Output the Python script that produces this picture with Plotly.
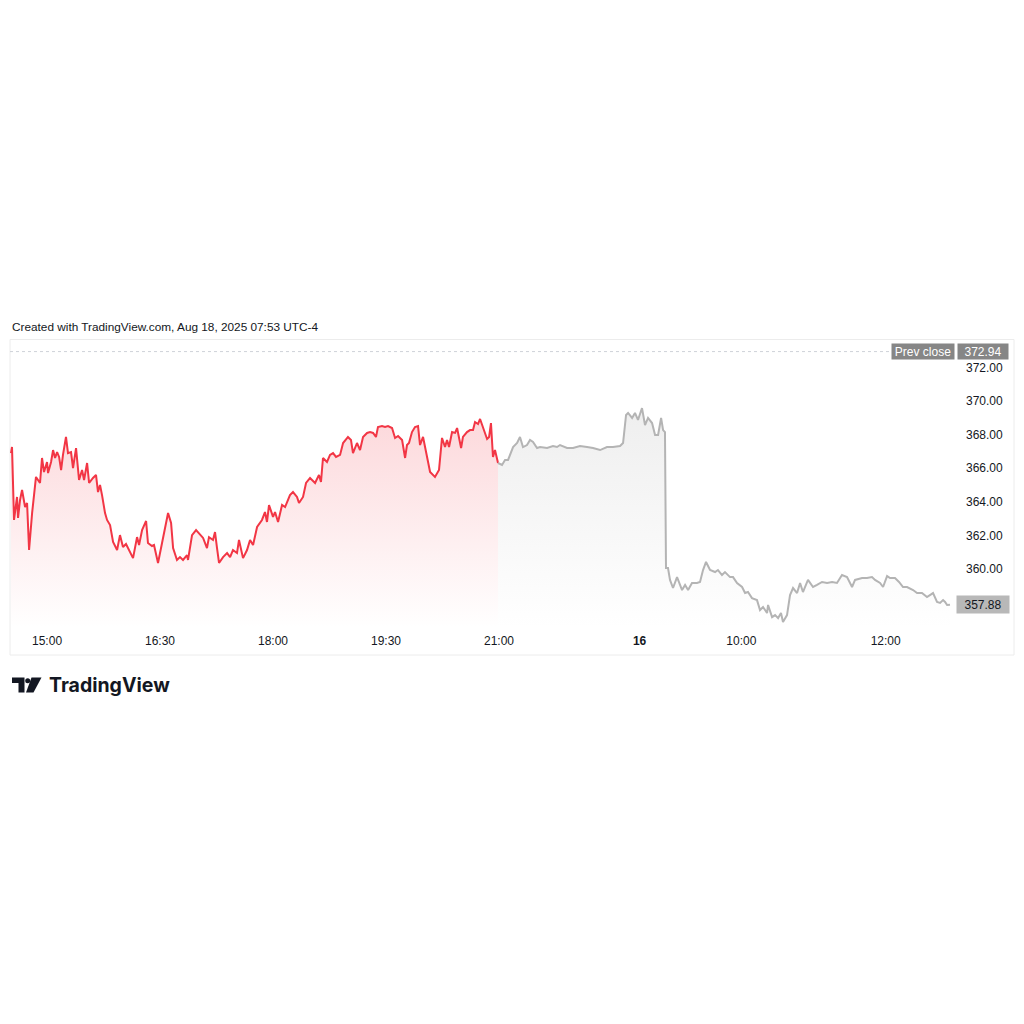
import plotly.graph_objects as go

# ---------------- DATA ----------------
# x = session position in minutes from 15:00 (TradingView bar-index style axis)
red_x = [-28.7, -27.9, -26.3, -23.9, -23.1, -21.5, -19.9, -17.5, -15.9, -14.3, -11.9, -8.8, -5.6, -4.0, -2.4,
         0.0, 0.8, 3.2, 4.8, 6.4, 8.0, 9.6, 11.2, 12.7, 15.1, 16.7, 19.1, 20.7, 23.1, 25.5, 27.9, 29.5, 31.9,
         33.5, 36.6, 39.0, 40.6, 42.2, 43.8, 46.2, 47.8, 50.2, 52.6, 55.8, 58.1, 60.5, 62.9, 66.1, 68.5, 71.7,
         73.3, 75.7, 78.9, 80.4, 83.6, 85.2, 88.4, 91.6, 94.0, 96.4, 98.8, 100.4, 103.5, 105.9, 108.3, 111.5,
         112.3, 115.5, 118.7, 121.9, 124.3, 127.4, 129.0, 132.2, 133.8, 135.4, 137.0, 140.2, 143.4, 145.8,
         148.1, 151.3, 152.9, 156.1, 159.3, 161.7, 164.1, 167.3, 171.2, 173.6, 175.2, 176.8, 180.0, 181.6,
         184.0, 187.2, 189.6, 193.5, 195.9, 199.1, 200.7, 203.9, 206.3, 209.5, 213.5, 216.6, 218.2, 219.8,
         223.0, 225.4, 227.8, 230.2, 233.4, 235.8, 239.7, 242.1, 243.7, 246.9, 249.3, 251.7, 254.9, 257.3,
         259.7, 262.0, 263.6, 266.8, 269.2, 271.6, 274.8, 277.2, 279.6, 282.8, 285.2, 286.7, 288.3, 290.7,
         293.1, 295.5, 297.1, 299.5, 301.1, 302.7, 305.1, 309.0, 312.2, 314.6, 317.0, 318.6, 320.2, 322.6,
         325.0, 326.6, 329.8, 331.3, 334.5, 336.9, 339.3, 340.9, 343.3, 344.9, 347.3, 350.5, 352.1, 353.6,
         355.2, 356.8, 359.2]
red_y = [366.90, 367.26, 362.92, 364.29, 363.04, 364.11, 364.70, 363.69, 363.93, 361.13, 363.33, 365.48,
         365.12, 366.61, 365.77, 366.37, 365.71, 366.37, 367.08, 366.61, 366.96, 366.67, 365.89, 366.79,
         367.86, 366.90, 366.96, 366.01, 367.20, 365.30, 365.89, 365.30, 366.31, 365.12, 365.42, 365.60,
         364.58, 365.00, 364.40, 363.33, 362.92, 362.62, 361.61, 361.13, 362.02, 361.31, 361.49, 360.95,
         360.65, 361.90, 361.43, 362.32, 362.86, 361.55, 361.37, 361.43, 360.36, 361.55, 362.50, 363.33,
         362.74, 361.25, 360.54, 360.71, 360.54, 360.83, 360.54, 362.02, 362.32, 362.02, 361.85, 361.25,
         361.90, 361.73, 362.20, 361.25, 360.36, 360.71, 360.95, 360.71, 361.13, 360.95, 361.73, 360.65,
         361.13, 361.73, 361.43, 362.50, 362.92, 363.39, 362.80, 363.81, 363.10, 363.39, 362.80, 363.81,
         363.69, 364.40, 364.58, 364.29, 363.93, 364.29, 365.12, 365.42, 365.12, 365.60, 365.18, 366.61,
         366.37, 366.79, 366.90, 366.67, 366.79, 367.50, 367.86, 367.68, 366.90, 367.50, 367.08, 367.86,
         368.10, 368.15, 368.10, 367.86, 368.45, 368.51, 368.45, 368.51, 368.39, 367.80, 367.92, 367.68,
         366.61, 367.38, 367.50, 368.15, 368.45, 368.51, 367.38, 367.86, 367.26, 366.61, 365.77, 365.48,
         365.89, 367.80, 367.26, 367.68, 367.26, 368.15, 368.10, 368.39, 367.20, 367.86, 368.15, 368.27,
         368.27, 368.75, 368.63, 368.93, 368.39, 367.74, 367.86, 368.69, 366.67, 367.08, 366.31]

gray_x = [359.2, 362.4, 364.8, 367.2, 371.2, 374.4, 376.7, 379.1, 382.3, 384.7, 387.1, 390.3, 392.7, 398.3,
          403.0, 406.2, 408.6, 414.2, 419.0, 424.5, 430.1, 434.9, 440.5, 446.0, 450.8, 456.4, 458.8, 461.2,
          462.8, 466.0, 468.3, 470.7, 473.9, 476.3, 478.7, 481.9, 484.3, 486.7, 489.1, 490.7, 492.2, 493.0,
          494.6, 496.2, 498.6, 501.8, 505.8, 508.2, 510.6, 513.7, 517.7, 520.1, 522.5, 524.9, 528.1, 532.1,
          534.4, 537.6, 540.0, 544.0, 546.4, 549.6, 553.6, 556.0, 558.3, 561.5, 565.5, 567.9, 570.3, 573.5,
          574.3, 577.5, 579.9, 582.3, 584.6, 586.2, 589.4, 591.8, 594.2, 597.4, 599.8, 602.1, 606.1, 610.1,
          613.3, 617.3, 621.3, 625.3, 629.2, 633.2, 637.2, 641.2, 643.6, 649.2, 653.1, 657.1, 659.5, 663.5,
          665.9, 669.1, 671.5, 675.4, 678.6, 681.8, 685.0, 689.8, 693.0, 696.9, 700.9, 705.7, 708.9, 711.3,
          713.7, 715.3, 716.9, 719.2]
gray_y = [366.31, 366.19, 366.49, 366.49, 367.26, 367.50, 367.86, 367.26, 367.38, 367.68, 367.56, 367.20,
          367.26, 367.20, 367.32, 367.26, 367.38, 367.20, 367.20, 367.32, 367.26, 367.20, 367.08, 367.26,
          367.26, 367.32, 367.50, 369.17, 369.29, 368.99, 369.29, 368.87, 369.58, 368.57, 368.99, 368.69,
          367.98, 367.98, 368.99, 368.27, 368.15, 360.06, 360.06, 359.35, 358.87, 359.52, 358.75, 359.05,
          358.75, 359.17, 359.17, 359.23, 359.94, 360.42, 359.94, 359.82, 359.94, 359.64, 359.82, 359.52,
          359.52, 359.17, 358.93, 358.57, 358.63, 358.27, 358.15, 357.56, 357.74, 357.38, 357.86, 357.14,
          357.26, 357.08, 357.38, 356.85, 357.26, 358.45, 358.87, 358.57, 359.17, 358.63, 359.35, 358.93,
          359.05, 359.23, 359.17, 359.23, 359.17, 359.64, 359.52, 358.93, 359.35, 359.46, 359.46, 359.52,
          359.35, 359.17, 358.93, 359.58, 359.46, 359.46, 359.23, 358.93, 358.93, 358.75, 358.57, 358.57,
          358.33, 358.57, 358.04, 357.98, 358.15, 358.04, 357.86, 357.88]

prev_close = 372.94
last_price = 357.88

x_tick_pos = [0, 90, 180, 270, 360, 472, 553, 668]
x_tick_labels = ["15:00", "16:30", "18:00", "19:30", "21:00", "<b>16</b>", "10:00", "12:00"]
y_tick_vals = [360, 362, 364, 366, 368, 370, 372]
y_tick_labels = ["360.00", "362.00", "364.00", "366.00", "368.00", "370.00", "372.00"]

header_text = "Created with TradingView.com, Aug 18, 2025 07:53 UTC-4"
brand_text = "TradingView"

# ---------------- LAYOUT GEOMETRY (pixels) ----------------
W, H = 1024, 1024
PL, PR, PT, PB = 10, 955, 340, 628
Y_RANGE = [356.49, 373.63]
X_RANGE = [-29.5, 723.2]


def px(x):
    return (x - PL) / (PR - PL)


def py(y):
    return (PB - y) / (PB - PT)


FONT = "Liberation Sans, Arial, sans-serif"
TEXT = "#131722"
RED = "#F23645"
GRAY = "#b4b4b4"

fig = go.Figure()

fig.add_trace(go.Scatter(
    x=red_x, y=red_y, mode="lines",
    line=dict(color=RED, width=2),
    fill="tozeroy",
    fillgradient=dict(type="vertical", start=Y_RANGE[0], stop=369.5,
                      colorscale=[[0, "rgba(242,54,69,0.0)"], [1, "rgba(242,54,69,0.20)"]]),
    hoverinfo="skip", showlegend=False,
))
fig.add_trace(go.Scatter(
    x=gray_x, y=gray_y, mode="lines",
    line=dict(color=GRAY, width=2),
    fill="tozeroy",
    fillgradient=dict(type="vertical", start=Y_RANGE[0], stop=370.0,
                      colorscale=[[0, "rgba(160,160,160,0.0)"], [1, "rgba(160,160,160,0.18)"]]),
    hoverinfo="skip", showlegend=False,
))

shapes = [
    # outer frame
    dict(type="rect", xref="paper", yref="paper", x0=px(10), x1=px(1014), y0=py(655), y1=py(339.5),
         line=dict(color="#ececec", width=1), fillcolor="rgba(0,0,0,0)", layer="below"),
    # prev close dotted line
    dict(type="line", xref="paper", yref="y", x0=px(10), x1=px(890), y0=prev_close, y1=prev_close,
         line=dict(color="#cfd2d8", width=1, dash="dot")),
    # TradingView logo: T
    dict(type="path", xref="paper", yref="paper",
         path=f"M {px(12)},{py(677.5)} L {px(24.5)},{py(677.5)} L {px(24.5)},{py(692.5)} "
              f"L {px(18.5)},{py(692.5)} L {px(18.5)},{py(683)} L {px(12)},{py(683)} Z",
         fillcolor=TEXT, line=dict(width=0)),
    # logo dot
    dict(type="circle", xref="paper", yref="paper", x0=px(25.2), x1=px(30.2), y0=py(683.2), y1=py(678.2),
         fillcolor=TEXT, line=dict(width=0)),
    # logo slash
    dict(type="path", xref="paper", yref="paper",
         path=f"M {px(31.5)},{py(677.5)} L {px(41.5)},{py(677.5)} L {px(33.5)},{py(692.5)} "
              f"L {px(26)},{py(692.5)} Z",
         fillcolor=TEXT, line=dict(width=0)),
]

annotations = [
    dict(text=header_text, xref="paper", yref="paper", x=px(10), y=py(327), xanchor="left", yanchor="middle",
         showarrow=False, font=dict(family=FONT, size=11.8, color=TEXT)),
    dict(text=brand_text, xref="paper", yref="paper", x=px(47), y=py(684.5), xanchor="left", yanchor="middle",
         showarrow=False, font=dict(family="Inter, sans-serif", size=19.5, color=TEXT, weight=700)),
    dict(text="Prev close", xref="paper", yref="y", x=px(923), y=prev_close, xanchor="center", yanchor="middle",
         showarrow=False, bgcolor="#868686", width=60, height=13, borderpad=1,
         font=dict(family=FONT, size=12, color="#ffffff")),
    dict(text=f"{prev_close:.2f}", xref="paper", yref="y", x=px(982.5), y=prev_close, xanchor="center",
         yanchor="middle", showarrow=False, bgcolor="#868686", width=48, height=13, borderpad=1,
         font=dict(family=FONT, size=12, color="#ffffff")),
    dict(text=f"{last_price:.2f}", xref="paper", yref="y", x=px(983), y=last_price, xanchor="center",
         yanchor="middle", showarrow=False, bgcolor="#b8b8b8", width=50, height=15, borderpad=1,
         font=dict(family=FONT, size=12, color=TEXT)),
]

fig.update_layout(
    width=W, height=H,
    margin=dict(l=PL, r=W - PR, t=PT, b=H - PB, pad=0),
    paper_bgcolor="white", plot_bgcolor="white",
    showlegend=False, hovermode=False,
    shapes=shapes, annotations=annotations,
    xaxis=dict(range=X_RANGE, tickmode="array", tickvals=x_tick_pos, ticktext=x_tick_labels,
               showgrid=False, zeroline=False, showline=False, ticks="",
               tickfont=dict(family=FONT, size=12, color=TEXT), ticklabelstandoff=4, fixedrange=True),
    yaxis=dict(range=Y_RANGE, side="right", tickmode="array", tickvals=y_tick_vals, ticktext=y_tick_labels,
               showgrid=False, zeroline=False, showline=False, ticks="",
               tickfont=dict(family=FONT, size=12, color=TEXT), ticklabelstandoff=10, fixedrange=True),
)

fig.write_html("out.html", config=dict(displayModeBar=False, staticPlot=True))
